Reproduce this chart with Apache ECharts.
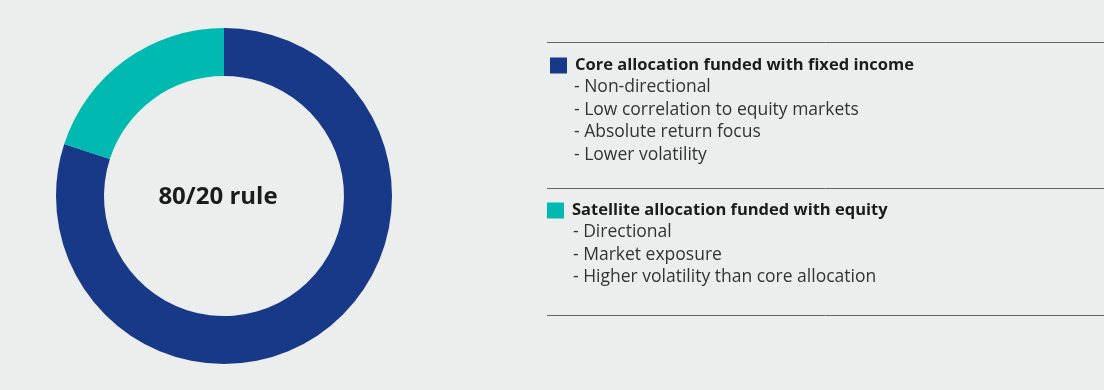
<!DOCTYPE html>
<html><head><meta charset="utf-8">
<script src="https://cdn.jsdelivr.net/npm/echarts@6/dist/echarts.min.js"></script>
<style>html,body{margin:0;padding:0;background:#ECEEED;}#c{width:1104px;height:390px;}</style>
</head><body><div id="c"></div>
<script>
const categories = ['Core allocation funded with fixed income', 'Satellite allocation funded with equity'];
const values = [80, 20];
const colors = ['#183888', '#00B9B1'];
const coreBullets = ['- Non-directional', '- Low correlation to equity markets', '- Absolute return focus', '- Lower volatility'];
const satBullets = ['- Directional', '- Market exposure', '- Higher volatility than core allocation'];
const centerLabel = '80/20 rule';

const FONT = 'Open Sans';
const chart = echarts.init(document.getElementById('c'), null, {renderer: 'canvas'});
const legendText = {fontFamily: FONT, fontSize: 16.5, fontWeight: 'bold', color: '#1b1b1b', padding: [0, 0, 0, 3]};
chart.setOption({
  backgroundColor: '#ECEEED',
  animation: false,
  legend: [
    {data: [categories[0]], left: 545, top: 52, padding: 5, icon: 'rect', itemWidth: 17, itemHeight: 16, itemGap: 0, textStyle: legendText, selectedMode: false},
    {data: [categories[1]], left: 542, top: 197, padding: 5, icon: 'rect', itemWidth: 17, itemHeight: 16, itemGap: 0, textStyle: legendText, selectedMode: false}
  ],
  series: [{
    type: 'pie',
    center: [224, 196],
    radius: [120, 168],
    startAngle: 90,
    clockwise: true,
    label: {show: false},
    labelLine: {show: false},
    silent: true,
    data: categories.map((n, i) => ({name: n, value: values[i], itemStyle: {color: colors[i]}}))
  }],
  graphic: [
    {type: 'text', x: 218, y: 197, style: {text: centerLabel, fontFamily: FONT, fontSize: 24, fontWeight: 'bold', fill: '#1b1b1b', align: 'center', verticalAlign: 'middle'}},
    {type: 'line', shape: {x1: 547, y1: 42.5, x2: 1104, y2: 42.5}, style: {stroke: '#666', lineWidth: 1}},
    {type: 'line', shape: {x1: 547, y1: 188.5, x2: 1104, y2: 188.5}, style: {stroke: '#666', lineWidth: 1}},
    {type: 'line', shape: {x1: 547, y1: 315.5, x2: 1104, y2: 315.5}, style: {stroke: '#666', lineWidth: 1}},
    {type: 'text', left: 574, top: 76, style: {text: coreBullets.join('\n'), fontFamily: FONT, fontSize: 17.5, lineHeight: 22.5, fill: '#333'}},
    {type: 'text', left: 573, top: 221, style: {text: satBullets.join('\n'), fontFamily: FONT, fontSize: 17.5, lineHeight: 22.5, fill: '#333'}}
  ]
});
</script></body></html>
